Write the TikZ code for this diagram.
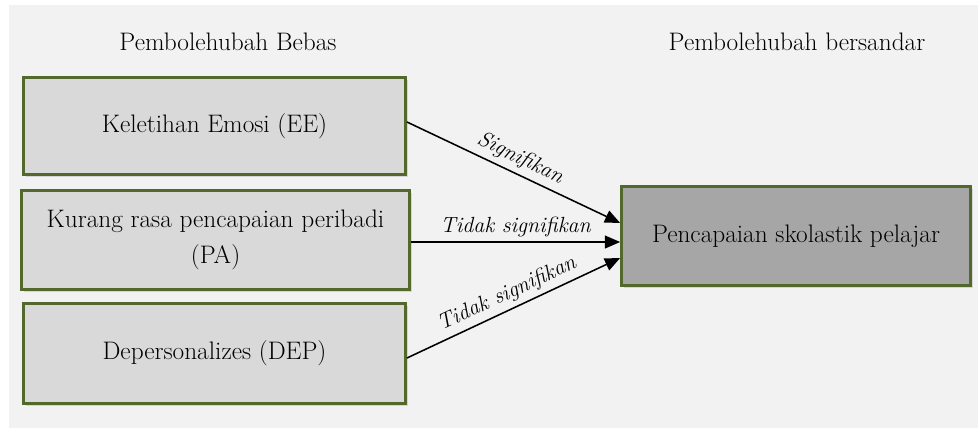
\documentclass[tikz,border=0pt]{standalone}
\usepackage{tikz}
\usetikzlibrary{calc}
\usetikzlibrary{arrows.meta}
\usetikzlibrary{shadows}

\definecolor{bglight}{HTML}{F2F2F2}
\definecolor{boxlight}{HTML}{D9D9D9}
\definecolor{boxdark}{HTML}{A6A6A6}
\definecolor{olive}{HTML}{52682C}

\tikzset{
    varbox/.style={draw=olive, line width=2pt, fill=boxlight, align=center,
        font=\fontsize{18}{25.6}\selectfont,
        drop shadow={shadow xshift=0.06cm, shadow yshift=-0.06cm, opacity=0.25}},
    pathlabel/.style={font=\fontsize{15.6}{19}\selectfont\itshape, above, sloped, pos=0.5},
    link/.style={line width=1.1pt, -{Triangle[length=0.38cm,width=0.32cm]}}
}

\begin{document}
\begin{tikzpicture}[x=0.025cm, y=-0.025cm]
    % Page size and background
    \useasboundingbox (0,0) rectangle (978,428);
    \fill[bglight] (9,5) rectangle (978,428);

    % Centres of the boxes
    \coordinate (CEE) at (214.5, 126);
    \coordinate (CPA) at (215.5, 240);
    \coordinate (CDEP) at (214.5, 353.5);
    \coordinate (CPEL) at (796, 236);

    % Column titles
    \node[font=\fontsize{18}{22}\selectfont] (bebas) at (228, 42) {Pembolehubah Bebas};
    \node[font=\fontsize{18}{22}\selectfont] (bersandar) at (797, 42) {Pembolehubah bersandar};

    % Independent variables
    \node[varbox, minimum width=9.55cm, minimum height=2.42cm] (ee) at (CEE) {Keletihan Emosi (EE)};
    \node[varbox, minimum width=9.7cm, minimum height=2.47cm] (pa) at (CPA) {Kurang rasa pencapaian peribadi\\(PA)};
    \node[varbox, minimum width=9.55cm, minimum height=2.5cm] (dep) at (CDEP) {Depersonalizes (DEP)};

    % Dependent variable
    \node[varbox, fill=boxdark, minimum width=8.72cm, minimum height=2.47cm] (pel) at (CPEL) {Pencapaian skolastik pelajar};

    % Connectors
    \draw[link] ($(ee.east)+(0,-4)$) -- node[pathlabel] {Signifikan} ($(pel.west)+(0,-13)$);
    \draw[link] ($(pa.east)+(0,2)$) -- node[pathlabel] {Tidak signifikan} ($(pel.west)+(0,6)$);
    \draw[link] ($(dep.east)+(0,4.5)$) -- node[pathlabel] {Tidak signifikan} ($(pel.west)+(0,22)$);

\end{tikzpicture}
\end{document}
